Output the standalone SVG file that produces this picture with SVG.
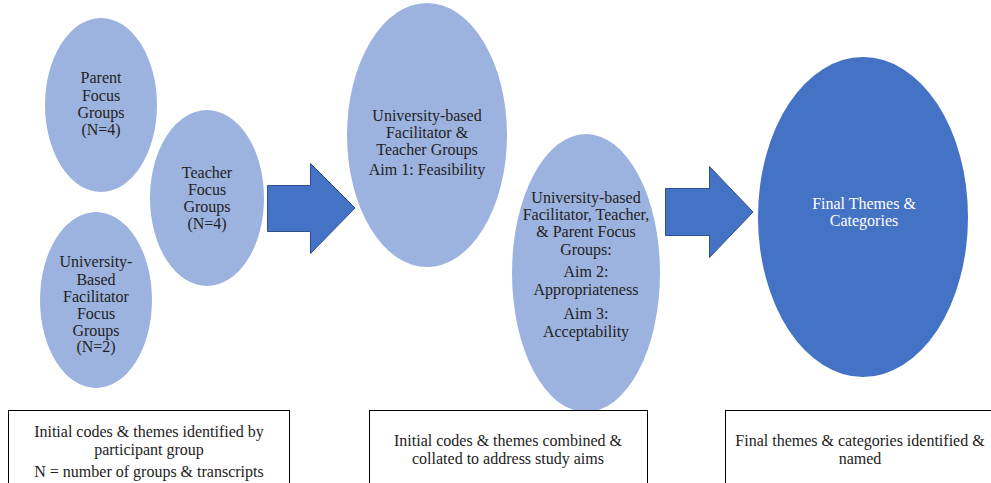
<svg xmlns="http://www.w3.org/2000/svg" width="991" height="483" viewBox="0 0 991 483">
<style>
.light{fill:#9db3df;}
.dark{fill:#4472c4;}
.arrow{fill:#4472c4;stroke:#2f528f;stroke-width:1;}
.box{fill:#fff;stroke:#000;stroke-width:1;}
.t{font-family:'Liberation Serif','Times New Roman',Times,serif;font-size:16px;fill:#222;text-anchor:middle;}
.w{fill:#fff;}
</style>
<rect width="991" height="483" fill="#fff"/>
<g id="connectors">
<path class="arrow" d="M267.5,185.5 H310.5 V163.5 L355,208 L310.5,253.5 V231.5 H267.5 Z"/>
<path class="arrow" d="M665.5,188.5 H709.5 V166.5 L753,212 L709.5,257.5 V235.5 H665.5 Z"/>
</g>
<g id="parent" class="t">
<ellipse class="light" cx="101" cy="105" rx="56" ry="87"/>
<text x="101" y="83">Parent</text>
<text x="101" y="101">Focus</text>
<text x="101" y="118">Groups</text>
<text x="101" y="135">(N=4)</text>
</g>
<g id="teacher" class="t">
<ellipse class="light" cx="207" cy="198" rx="57" ry="88"/>
<text x="207" y="178">Teacher</text>
<text x="207" y="195">Focus</text>
<text x="207" y="212">Groups</text>
<text x="207" y="229">(N=4)</text>
</g>
<g id="university" class="t">
<ellipse class="light" cx="96" cy="300" rx="56" ry="88"/>
<text x="96" y="267">University-</text>
<text x="96" y="285">Based</text>
<text x="96" y="302">Facilitator</text>
<text x="96" y="319">Focus</text>
<text x="96" y="336">Groups</text>
<text x="96" y="352">(N=2)</text>
</g>
<g id="aim1" class="t">
<ellipse class="light" cx="427" cy="135" rx="80" ry="132"/>
<text x="427" y="121">University-based</text>
<text x="427" y="138">Facilitator &amp;</text>
<text x="427" y="155">Teacher Groups</text>
<text x="427" y="175">Aim 1: Feasibility</text>
</g>
<g id="aim23" class="t">
<ellipse class="light" cx="586" cy="273" rx="74" ry="139"/>
<text x="586" y="203">University-based</text>
<text x="586" y="220">Facilitator, Teacher,</text>
<text x="586" y="237">&amp; Parent Focus</text>
<text x="586" y="255">Groups:</text>
<text x="586" y="277">Aim 2:</text>
<text x="586" y="295">Appropriateness</text>
<text x="586" y="319">Aim 3:</text>
<text x="586" y="337">Acceptability</text>
</g>
<g id="final" class="t">
<ellipse class="dark" cx="863" cy="217" rx="105" ry="160"/>
<text class="w" x="864" y="209">Final Themes &amp;</text>
<text class="w" x="864" y="226">Categories</text>
</g>
<g id="box1" class="t">
<rect class="box" x="8.5" y="410.5" width="281" height="80"/>
<text x="149" y="437">Initial codes &amp; themes identified by</text>
<text x="149" y="455">participant group</text>
<text x="149" y="477">N = number of groups &amp; transcripts</text>
</g>
<g id="box2" class="t">
<rect class="box" x="369.5" y="410.5" width="278" height="80"/>
<text x="508" y="446">Initial codes &amp; themes combined &amp;</text>
<text x="508" y="464">collated to address study aims</text>
</g>
<g id="box3" class="t">
<rect class="box" x="725.5" y="410.5" width="280" height="80"/>
<text x="860" y="446">Final themes &amp; categories identified &amp;</text>
<text x="860" y="464">named</text>
</g>
</svg>
